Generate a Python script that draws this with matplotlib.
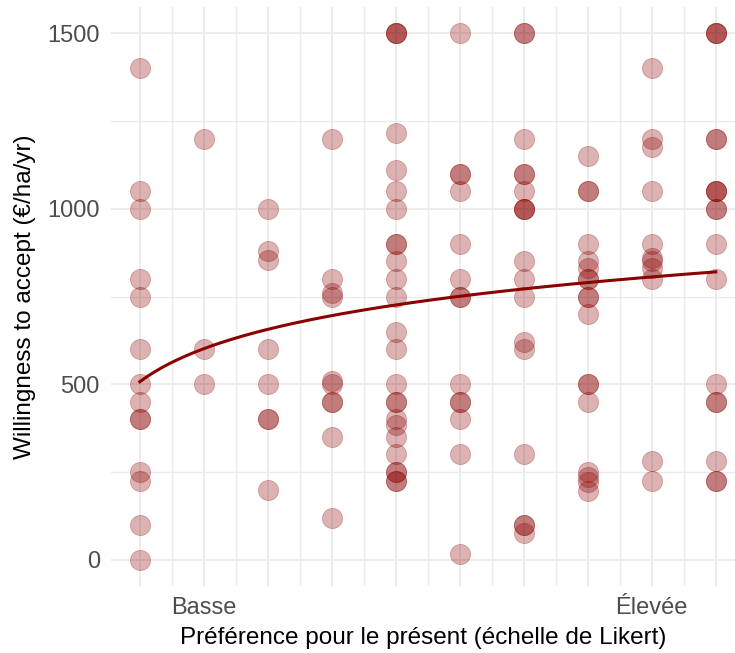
import numpy as np
import matplotlib
matplotlib.use("Agg")
import matplotlib.pyplot as plt

plt.rcParams['font.family'] = ['Liberation Sans', 'DejaVu Sans']

# Willingness to accept, grouped by Likert level (1..10)
wta_1 = [1400, 1050, 1000, 800, 750, 600, 500, 450, 400, 400, 250, 225, 100, 0]
wta_2 = [1200, 600, 500]
wta_3 = [1000, 880, 855, 600, 500, 400, 400, 200]
wta_4 = [1200, 800, 760, 750, 510, 500, 450, 450, 350, 120]
wta_5 = [1500, 1500, 1500, 1215, 1110, 1050, 1000, 900, 900, 850, 800, 750, 650,
         600, 500, 450, 450, 400, 385, 350, 300, 250, 250, 225, 225]
wta_6 = [1500, 1100, 1100, 1050, 900, 800, 750, 750, 500, 450, 450, 400, 300, 15]
wta_7 = [1500, 1500, 1200, 1100, 1100, 1050, 1000, 1000, 1000, 850, 800, 750,
         620, 600, 300, 100, 100, 75]
wta_8 = [1150, 1050, 1050, 900, 850, 830, 800, 800, 750, 750, 700, 500, 500, 450,
         250, 235, 220, 195]
wta_9 = [1400, 1200, 1175, 1050, 900, 860, 850, 830, 800, 280, 225]
wta_10 = [1500, 1500, 1500, 1200, 1200, 1050, 1050, 1050, 1000, 1000, 900, 800,
          500, 450, 450, 280, 225, 225]

groups = [wta_1, wta_2, wta_3, wta_4, wta_5, wta_6, wta_7, wta_8, wta_9, wta_10]
likert = np.concatenate([[i + 1] * len(g) for i, g in enumerate(groups)])
wta = np.concatenate(groups)

x_ticks = [2, 9]
x_labels = ["Basse", "Élevée"]
y_ticks = [0, 500, 1000, 1500]

# log trend (y = a + b*ln(x)), coefficients
fit_a = 507
fit_b = 136
xs = np.linspace(1, 10, 200)
ys = fit_a + fit_b * np.log(xs)

fig = plt.figure(figsize=(7.35, 6.53), dpi=100)
ax = fig.add_axes([111 / 735, 67 / 653, 624 / 735, 579 / 653])

# grid
for gx in np.arange(1, 10.01, 0.5):
    ax.axvline(gx, color='#EBEBEB', lw=1.3 if gx % 1 == 0 else 1.0, zorder=0)
for gy in [0, 250, 500, 750, 1000, 1250, 1500]:
    ax.axhline(gy, color='#EBEBEB', lw=1.3 if gy % 500 == 0 else 1.0, zorder=0)

ax.scatter(likert, wta, s=210, color='#8B0000', alpha=0.3, edgecolors='#8B0000',
           linewidths=0.6, zorder=2)
ax.plot(xs, ys, color='#8B0000', lw=2.2, zorder=3)

ax.set_xlim(0.55, 10.3)
ax.set_ylim(-75, 1575)
ax.set_xticks(x_ticks)
ax.set_xticklabels(x_labels)
ax.set_yticks(y_ticks)
ax.tick_params(length=0, labelsize=17, labelcolor='#4D4D4D', pad=8)
for s in ax.spines.values():
    s.set_visible(False)

ax.set_xlabel('Préférence pour le présent (échelle de Likert)', fontsize=17.5, labelpad=6)
ax.set_ylabel('Willingness to accept (€/ha/yr)', fontsize=17.5, labelpad=8)

fig.savefig('out.png', dpi=100)
